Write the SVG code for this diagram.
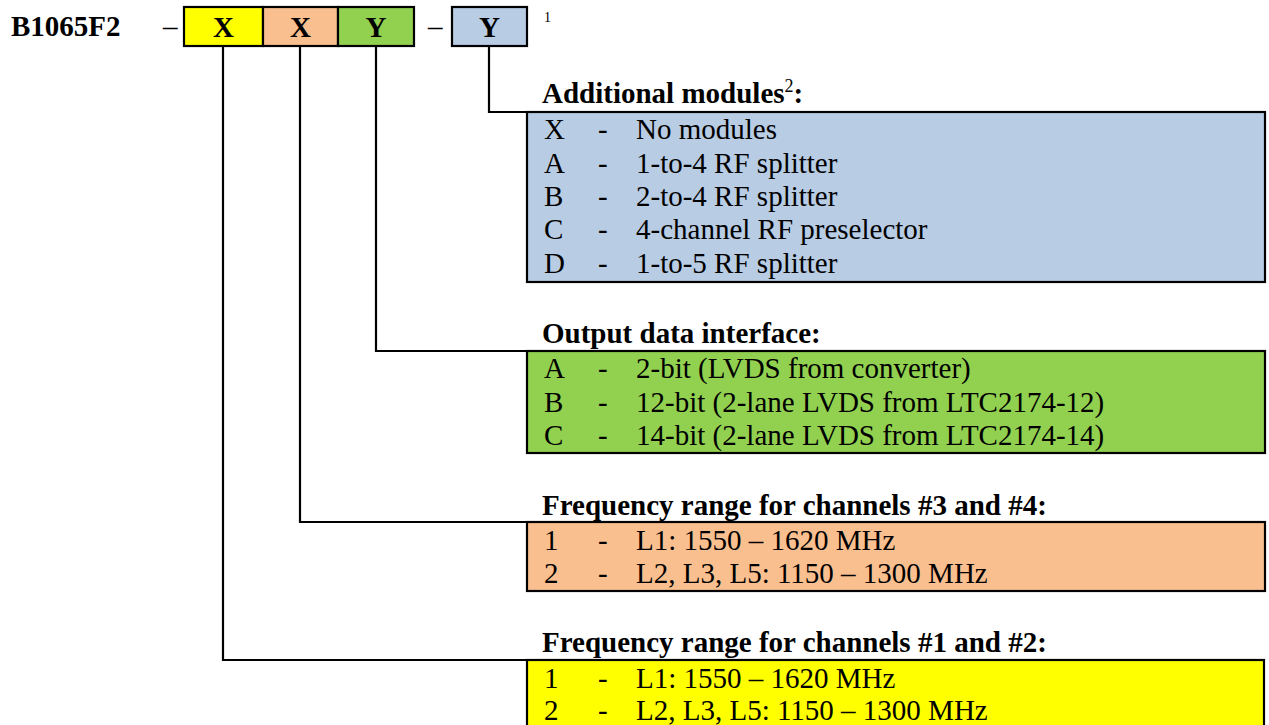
<svg xmlns="http://www.w3.org/2000/svg" width="1269" height="725" viewBox="0 0 1269 725">
<style>
text{font-family:"Liberation Serif","Times New Roman",serif;fill:#000}
.b{font-weight:bold;font-size:29px}
.r{font-size:29px}
.box{stroke:#000;stroke-width:2.2}
.con{fill:none;stroke:#000;stroke-width:2.2}
.yel{fill:#FFFF00}.ora{fill:#FABF8F}.grn{fill:#92D050}.blu{fill:#B8CCE4}
</style>
<rect width="1269" height="725" fill="#fff"/>
<g id="header">
<text class="b" x="11" y="36">B1065F2</text>
<text class="r" x="163" y="36">–</text>
<text class="r" x="428" y="36">–</text>
<text x="544" y="22" font-size="14">1</text>
</g>
<g id="code-x1">
<rect class="box yel" x="184" y="7" width="79" height="39"/>
<text class="b" x="223.5" y="37" text-anchor="middle">X</text>
</g>
<g id="code-x2">
<rect class="box ora" x="263" y="7" width="75" height="39"/>
<text class="b" x="300.5" y="37" text-anchor="middle">X</text>
</g>
<g id="code-y1">
<rect class="box grn" x="338" y="7" width="76" height="39"/>
<text class="b" x="376" y="37" text-anchor="middle">Y</text>
</g>
<g id="code-y2">
<rect class="box blu" x="452" y="7" width="75" height="39"/>
<text class="b" x="489.5" y="37" text-anchor="middle">Y</text>
</g>
<g id="connectors">
<path class="con" d="M489,46 V112 H527"/>
<path class="con" d="M376,46 V351 H527"/>
<path class="con" d="M300,46 V522 H527"/>
<path class="con" d="M223,46 V660 H527"/>
</g>
<g id="modules">
<text class="b" x="542" y="103.3">Additional modules<tspan font-size="18" font-weight="normal" dy="-11">2</tspan><tspan dy="11">:</tspan></text>
<rect class="box blu" x="527" y="112" width="738" height="170"/>
<text class="r" x="544" y="139.3">X</text><text class="r" x="598" y="139.3">-</text><text class="r" x="636" y="139.3">No modules</text>
<text class="r" x="544" y="172.6">A</text><text class="r" x="598" y="172.6">-</text><text class="r" x="636" y="172.6">1-to-4 RF splitter</text>
<text class="r" x="544" y="206">B</text><text class="r" x="598" y="206">-</text><text class="r" x="636" y="206">2-to-4 RF splitter</text>
<text class="r" x="544" y="239.3">C</text><text class="r" x="598" y="239.3">-</text><text class="r" x="636" y="239.3">4-channel RF preselector</text>
<text class="r" x="544" y="272.6">D</text><text class="r" x="598" y="272.6">-</text><text class="r" x="636" y="272.6">1-to-5 RF splitter</text>
</g>
<g id="interface">
<text class="b" x="542" y="343.3">Output data interface:</text>
<rect class="box grn" x="527" y="351" width="738" height="102"/>
<text class="r" x="544" y="378.3">A</text><text class="r" x="598" y="378.3">-</text><text class="r" x="636" y="378.3">2-bit (LVDS from converter)</text>
<text class="r" x="544" y="411.7">B</text><text class="r" x="598" y="411.7">-</text><text class="r" x="636" y="411.7">12-bit (2-lane LVDS from LTC2174-12)</text>
<text class="r" x="544" y="445">C</text><text class="r" x="598" y="445">-</text><text class="r" x="636" y="445">14-bit (2-lane LVDS from LTC2174-14)</text>
</g>
<g id="freq34">
<text class="b" x="542" y="515">Frequency range for channels #3 and #4:</text>
<rect class="box ora" x="527" y="522" width="738" height="69"/>
<text class="r" x="544" y="550">1</text><text class="r" x="598" y="550">-</text><text class="r" x="636" y="550">L1: 1550 – 1620 MHz</text>
<text class="r" x="544" y="582.5">2</text><text class="r" x="598" y="582.5">-</text><text class="r" x="636" y="582.5">L2, L3, L5: 1150 – 1300 MHz</text>
</g>
<g id="freq12">
<text class="b" x="542" y="651.7">Frequency range for channels #1 and #2:</text>
<rect class="box yel" x="527" y="660" width="737" height="80"/>
<text class="r" x="544" y="687.5">1</text><text class="r" x="598" y="687.5">-</text><text class="r" x="636" y="687.5">L1: 1550 – 1620 MHz</text>
<text class="r" x="544" y="720">2</text><text class="r" x="598" y="720">-</text><text class="r" x="636" y="720">L2, L3, L5: 1150 – 1300 MHz</text>
</g>
</svg>
